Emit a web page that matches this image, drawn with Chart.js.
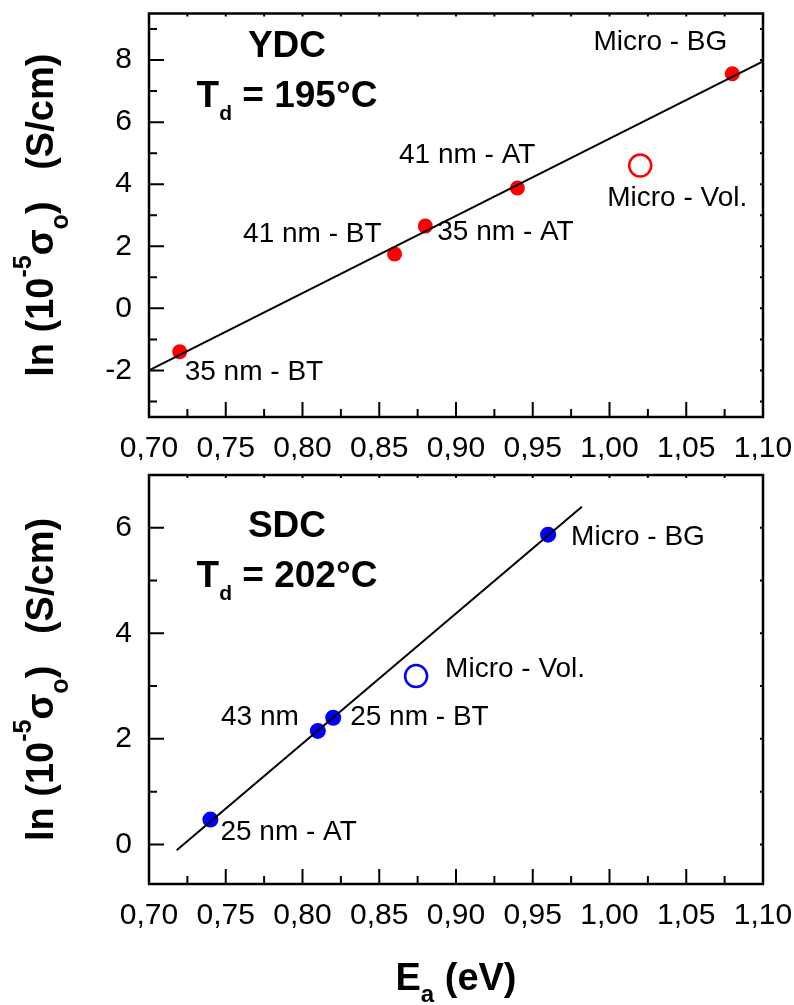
<!DOCTYPE html>
<html>
<head>
<meta charset="utf-8">
<script src="https://cdn.jsdelivr.net/npm/chart.js@4.4.0/dist/chart.umd.min.js"></script>
<style>
  html, body { margin: 0; padding: 0; background: #fff; }
  #page { position: relative; width: 794px; height: 1005px; }
  canvas { position: absolute; left: 0; }
  #ydcChart { top: 0; }
  #sdcChart { top: 460px; }
</style>
</head>
<body>
<div id="page">
  <canvas id="ydcChart" width="794" height="460"></canvas>
  <canvas id="sdcChart" width="794" height="545"></canvas>
</div>
<script>
// YDC films, T_d = 195 °C
const ydcEnergy = [0.72, 0.86, 0.88, 0.94, 1.08];
const ydcLnSigma = [-1.4, 1.75, 2.65, 3.88, 7.56];
const ydcNames = ["35 nm - BT", "41 nm - BT", "35 nm - AT", "41 nm - AT", "Micro - BG"];
const ydcVolEnergy = [1.02];
const ydcVolLnSigma = [4.6];
const ydcFitEnergy = [0.70, 1.10];
const ydcFitLnSigma = [-2.0, 7.96];

// SDC films, T_d = 202 °C
const sdcEnergy = [0.74, 0.81, 0.82, 0.96];
const sdcLnSigma = [0.47, 2.15, 2.40, 5.87];
const sdcNames = ["25 nm - AT", "43 nm", "25 nm - BT", "Micro - BG"];
const sdcVolEnergy = [0.874];
const sdcVolLnSigma = [3.19];
const sdcFitEnergy = [0.718, 0.982];
const sdcFitLnSigma = [-0.11, 6.40];

const volName = "Micro - Vol.";

// axis ticks (every other one is a minor tick without label)
const energyTicks = [0.70, 0.725, 0.75, 0.775, 0.80, 0.825, 0.85, 0.875, 0.90,
  0.925, 0.95, 0.975, 1.00, 1.025, 1.05, 1.075, 1.10];
const ydcYTicks = [-3, -2, -1, 0, 1, 2, 3, 4, 5, 6, 7, 8, 9];
const sdcYTicks = [0, 1, 2, 3, 4, 5, 6, 7];

const FONT = '"Liberation Sans", Arial, Helvetica, sans-serif';

function toPoints(xs, ys) {
  return xs.map((x, i) => ({ x: x, y: ys[i] }));
}

// text made of pieces: [text, size, baseline shift]
function richWidth(ctx, parts) {
  let w = 0;
  for (const [text, size] of parts) {
    ctx.font = `bold ${size}px ${FONT}`;
    w += ctx.measureText(text).width;
  }
  return w;
}

function drawRich(ctx, parts, x, y) {
  let cx = x;
  for (const [text, size, dy] of parts) {
    ctx.font = `bold ${size}px ${FONT}`;
    ctx.fillText(text, cx, y + dy);
    cx += ctx.measureText(text).width;
  }
}

const yTitleParts = [
  ["ln (10", 38, 0],
  ["-5", 25, -22],
  ["σ", 38, 0],
  ["o", 25, 15],
  [")   (S/cm)", 38, 0],
];

const panelDecor = {
  id: "panelDecor",
  afterDraw(chart, args, opts) {
    const { ctx, chartArea: a, scales } = chart;
    const xs = scales.x;
    const ys = scales.y;
    ctx.save();

    // tick marks pointing into the plot
    ctx.strokeStyle = "#000";
    ctx.lineWidth = 2;
    ctx.beginPath();
    xs.ticks.forEach((t) => {
      const px = xs.getPixelForValue(t.value);
      const len = Math.round(t.value * 40) % 2 === 0 ? 15 : 8;
      ctx.moveTo(px, a.bottom);
      ctx.lineTo(px, a.bottom - len);
      ctx.moveTo(px, a.top);
      ctx.lineTo(px, a.top + 3);
    });
    ys.ticks.forEach((t) => {
      const py = ys.getPixelForValue(t.value);
      const len = Math.round(t.value) % 2 === 0 ? 15 : 8;
      ctx.moveTo(a.left, py);
      ctx.lineTo(a.left + len, py);
      ctx.moveTo(a.right, py);
      ctx.lineTo(a.right - 3, py);
    });
    ctx.stroke();

    ctx.lineWidth = 2.5;
    ctx.strokeRect(a.left, a.top, a.right - a.left, a.bottom - a.top);

    // point labels
    ctx.fillStyle = "#000";
    ctx.font = `28px ${FONT}`;
    ctx.textBaseline = "alphabetic";
    opts.labels.forEach((lab) => {
      const px = xs.getPixelForValue(lab.x);
      const py = ys.getPixelForValue(lab.y);
      ctx.textAlign = lab.align;
      ctx.fillText(lab.text, px + lab.dx, py + lab.dy);
    });

    // material and T_d
    ctx.textAlign = "left";
    const head = [[opts.material, 37, 0]];
    drawRich(ctx, head, opts.titleX - richWidth(ctx, head) / 2, opts.titleY);
    const temp = [["T", 37, 0], ["d", 21, 13], [" = " + opts.temperature, 37, 0]];
    drawRich(ctx, temp, opts.titleX - richWidth(ctx, temp) / 2, opts.titleY + 50);

    // vertical axis title
    const cy = (a.top + a.bottom) / 2;
    ctx.save();
    ctx.translate(53, cy);
    ctx.rotate(-Math.PI / 2);
    drawRich(ctx, yTitleParts, -richWidth(ctx, yTitleParts) / 2, 0);
    ctx.restore();

    // horizontal axis title (lower panel only)
    if (opts.xTitle) {
      const parts = [["E", 38, 0], ["a", 24, 12], [" (eV)", 38, 0]];
      const cx = (a.left + a.right) / 2;
      drawRich(ctx, parts, cx - richWidth(ctx, parts) / 2, a.bottom + 106);
    }
    ctx.restore();
  },
};

function buildChart(id, cfg) {
  const canvas = document.getElementById(id);
  const ctx = canvas.getContext("2d");
  return new Chart(ctx, {
    type: "scatter",
    data: {
      datasets: [
        {
          label: "fit",
          data: toPoints(cfg.fitX, cfg.fitY),
          showLine: true,
          borderColor: "#000",
          borderWidth: 2,
          pointRadius: 0,
          fill: false,
        },
        {
          label: "films",
          data: toPoints(cfg.x, cfg.y),
          pointRadius: cfg.radius,
          pointBackgroundColor: cfg.color,
          pointBorderColor: cfg.color,
          pointBorderWidth: 0,
        },
        {
          label: volName,
          data: toPoints(cfg.volX, cfg.volY),
          pointRadius: 11,
          pointBackgroundColor: "rgba(0,0,0,0)",
          pointBorderColor: cfg.color,
          pointBorderWidth: 2.5,
        },
      ],
    },
    options: {
      responsive: false,
      animation: false,
      events: [],
      layout: { padding: { left: 0, right: 31, top: cfg.padTop, bottom: 0 } },
      plugins: {
        legend: { display: false },
        tooltip: { enabled: false },
        panelDecor: cfg.decor,
      },
      scales: {
        x: {
          type: "linear",
          min: 0.70,
          max: 1.10,
          afterBuildTicks: (s) => { s.ticks = energyTicks.map((v) => ({ value: v })); },
          afterFit: (s) => {
            s.height = cfg.xHeight;
            s.paddingLeft = 0; s.paddingRight = 0; s.paddingTop = 0; s.paddingBottom = 0;
          },
          grid: { display: false, drawTicks: false },
          border: { display: false },
          ticks: {
            autoSkip: false,
            maxRotation: 0,
            minRotation: 0,
            padding: 14,
            color: "#000",
            font: { family: FONT, size: 30 },
            callback: (v) => (Math.round(v * 40) % 2 === 0 ? v.toFixed(2).replace(".", ",") : ""),
          },
        },
        y: {
          type: "linear",
          min: cfg.yMin,
          max: cfg.yMax,
          afterBuildTicks: (s) => { s.ticks = cfg.yTicks.map((v) => ({ value: v })); },
          afterFit: (s) => {
            s.width = 149;
            s.paddingLeft = 0; s.paddingRight = 0; s.paddingTop = 0; s.paddingBottom = 0;
          },
          grid: { display: false, drawTicks: false },
          border: { display: false },
          ticks: {
            autoSkip: false,
            padding: 17,
            color: "#000",
            font: { family: FONT, size: 30 },
            callback: (v) => (Math.round(v) % 2 === 0 ? String(v) : ""),
          },
        },
      },
    },
    plugins: [panelDecor],
  });
}

function labelList(xs, ys, names, offsets) {
  return names.map((n, i) => ({
    text: n, x: xs[i], y: ys[i], dx: offsets[i][0], dy: offsets[i][1], align: offsets[i][2],
  }));
}

buildChart("ydcChart", {
  x: ydcEnergy, y: ydcLnSigma, volX: ydcVolEnergy, volY: ydcVolLnSigma,
  fitX: ydcFitEnergy, fitY: ydcFitLnSigma,
  color: "#ff0000", radius: 7.5,
  yMin: -3.5, yMax: 9.5, yTicks: ydcYTicks,
  padTop: 7, xHeight: 43,
  decor: {
    material: "YDC", temperature: "195°C", titleX: 287, titleY: 57, xTitle: false,
    labels: labelList(ydcEnergy, ydcLnSigma, ydcNames, [
      [5, 28, "left"], [-13, -12, "right"], [12, 14, "left"], [18, -25, "right"], [-5, -24, "right"],
    ]).concat(labelList(ydcVolEnergy, ydcVolLnSigma, [volName], [[-33, 40, "left"]])),
  },
});

buildChart("sdcChart", {
  x: sdcEnergy, y: sdcLnSigma, volX: sdcVolEnergy, volY: sdcVolLnSigma,
  fitX: sdcFitEnergy, fitY: sdcFitLnSigma,
  color: "#0000ff", radius: 8,
  yMin: -0.75, yMax: 7, yTicks: sdcYTicks,
  padTop: 15, xHeight: 121,
  decor: {
    material: "SDC", temperature: "202°C", titleX: 287, titleY: 77, xTitle: true,
    labels: labelList(sdcEnergy, sdcLnSigma, sdcNames, [
      [10, 20, "left"], [-19, -6, "right"], [17, 7, "left"], [23, 10, "left"],
    ]).concat(labelList(sdcVolEnergy, sdcVolLnSigma, [volName], [[29, 1, "left"]])),
  },
});
</script>
</body>
</html>
